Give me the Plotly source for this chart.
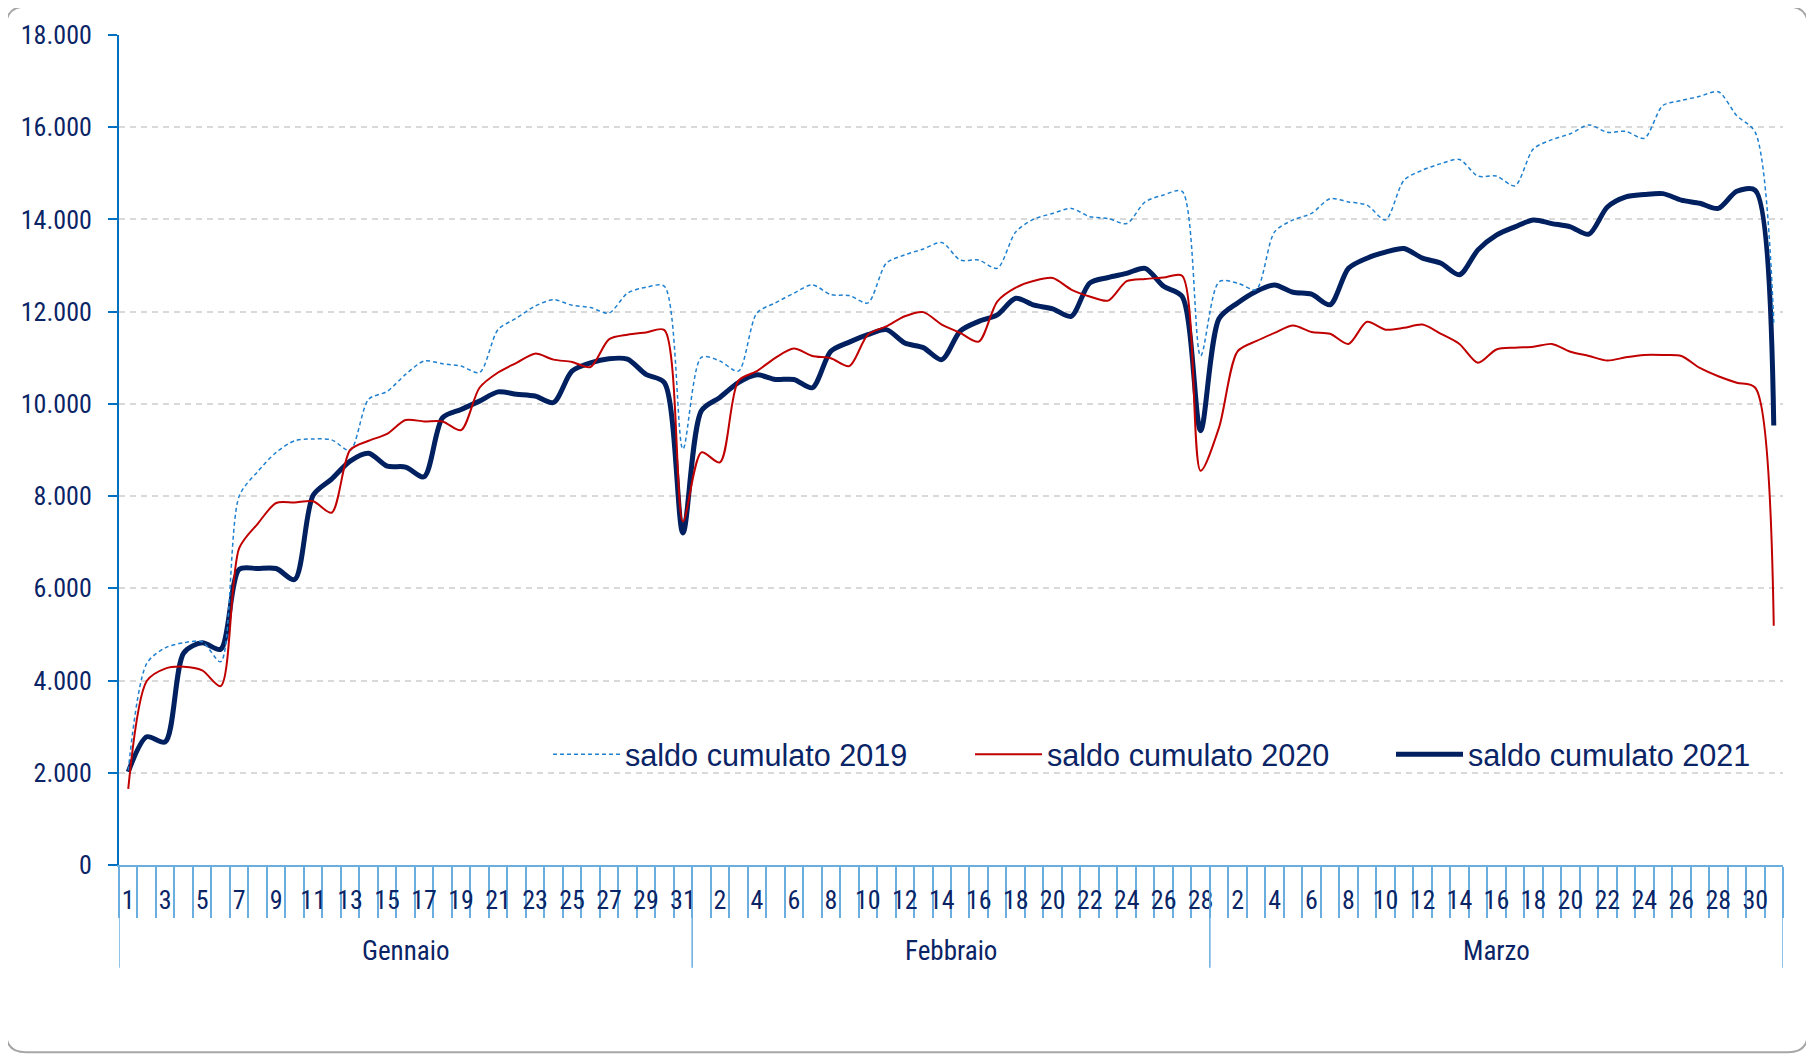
import plotly.graph_objects as go

# ---------------- data ----------------
mesi = ["Gennaio"] * 31 + ["Febbraio"] * 28 + ["Marzo"] * 31
giorni = list(range(1, 32)) + list(range(1, 29)) + list(range(1, 32))

saldo_2019 = [
    2050, 4370, 4710, 4820, 4840, 4410, 8000, 8530, 8950, 9200, 9240, 9220, 8990, 10100, 10270, 10640,
    10930, 10870, 10820, 10680, 11610, 11860, 12120, 12260, 12140, 12090, 11970, 12400, 12530, 12550, 9020,
    11010, 10930, 10710, 11970, 12190, 12400, 12580, 12370, 12350, 12190, 13050, 13230, 13360, 13500,
    13120, 13120, 12940, 13730, 14010, 14130, 14240, 14060, 14020, 13910, 14380, 14530, 14610, 11040,
    12650, 12620, 12480, 13730, 13990, 14130, 14450, 14380, 14310, 13990, 14850, 15070, 15210, 15300,
    14940, 14940, 14730, 15530, 15730, 15860, 16050, 15890, 15910, 15760, 16470, 16580, 16670, 16770,
    16250, 15890, 11760,
]
saldo_2020 = [
    1650, 3990, 4260, 4300, 4220, 3880, 6870, 7400, 7850, 7860, 7890, 7640, 9000, 9200, 9350, 9650,
    9620, 9620, 9430, 10350, 10680, 10890, 11090, 10960, 10910, 10800, 11400, 11500, 11550, 11600, 7450,
    8950, 8730, 10500, 10710, 11000, 11200, 11040, 10990, 10820, 11500, 11680, 11900, 11990, 11720,
    11540, 11350, 12220, 12520, 12670, 12730, 12480, 12330, 12240, 12660, 12710, 12740, 12780, 8550,
    9490, 11140, 11360, 11540, 11700, 11560, 11520, 11300, 11780, 11610, 11650, 11720, 11520, 11300,
    10890, 11180, 11220, 11240, 11300, 11130, 11040, 10940, 11010, 11060, 11060, 11040, 10780, 10600,
    10460, 10350, 5190,
]
saldo_2021 = [
    2020, 2780, 2670, 4600, 4820, 4680, 6410, 6430, 6430, 6190, 8020, 8370, 8760, 8930, 8650, 8630,
    8420, 9700, 9880, 10060, 10260, 10210, 10170, 10030, 10710, 10890, 10980, 10970, 10640, 10460, 7200,
    9850, 10140, 10460, 10630, 10530, 10530, 10350, 11140, 11340, 11500, 11610, 11320, 11220, 10960,
    11580, 11790, 11930, 12290, 12140, 12060, 11900, 12620, 12740, 12830, 12940, 12550, 12330, 9420,
    11850, 12190, 12440, 12580, 12420, 12380, 12150, 12940, 13160, 13290, 13370, 13160, 13050, 12800,
    13340, 13660, 13840, 13990, 13910, 13840, 13680, 14270, 14490, 14540, 14560, 14420, 14350, 14240,
    14610, 14630, 9530,
]
nomi = ["saldo cumulato 2019", "saldo cumulato 2020", "saldo cumulato 2021"]
y_ticks = [0, 2000, 4000, 6000, 8000, 10000, 12000, 14000, 16000, 18000]

# ---------------- style ----------------
FONT = "Liberation Sans Narrow, Arial Narrow, Roboto Condensed, Liberation Sans, Arial, sans-serif"
LFONT = "Liberation Sans, Arial, sans-serif"
TXT = "#0a2466"
AX_DARK = "#0070c0"
AX_LIGHT = "#6aaee0"

# page body has an 8px margin: work in figure pixels = reference pixels - 8
OFF = 8
FW, FH = 1814 - OFF, 1055 - OFF
L, R, T, B = 119 - OFF, 1783 - OFF, 32 - OFF, 865 - OFF
W, H = R - L, B - T
def py(p):
    return (B - (p - OFF)) / H
def px(p):
    return ((p - OFF) - L) / W

idx = list(range(len(giorni)))

fig = go.Figure()
fig.add_trace(go.Scatter(x=idx, y=saldo_2021, name=nomi[2], mode="lines", legend="legend3",
                         line=dict(color="#002060", width=5, shape="spline", smoothing=0.8)))
fig.add_trace(go.Scatter(x=idx, y=saldo_2019, name=nomi[0], mode="lines", legend="legend",
                         line=dict(color="#1f80d0", width=1.5, dash="4px,3px", shape="spline", smoothing=0.8)))
fig.add_trace(go.Scatter(x=idx, y=saldo_2020, name=nomi[1], mode="lines", legend="legend2",
                         line=dict(color="#c00000", width=2, shape="spline", smoothing=0.8)))

tickvals = idx[::2]
ticktext = [str(giorni[i]) for i in tickvals]

fig.update_xaxes(
    range=[-0.5, len(idx) - 0.5], showgrid=False, zeroline=False,
    showline=True, linecolor=AX_LIGHT, linewidth=2,
    tickmode="array", tickvals=tickvals, ticktext=ticktext,
    ticks="outside", ticklen=11, tickcolor="rgba(0,0,0,0)",
    tickfont=dict(family=FONT, size=26, color=TXT),
    minor=dict(tickmode="array", tickvals=[i - 0.5 for i in range(len(idx) + 1)],
               ticks="outside", ticklen=51, tickcolor=AX_LIGHT, tickwidth=1.5, showgrid=False),
)
fig.update_yaxes(
    range=[0, 18000], tickmode="array", tickvals=y_ticks, tickformat=",d",
    showline=True, linecolor=AX_DARK, linewidth=2,
    ticks="outside", ticklen=9, tickcolor=AX_DARK, tickwidth=2,
    ticklabelstandoff=11,
    showgrid=True, gridcolor="#d9d9d9", griddash="6px,5px", gridwidth=1.5, zeroline=False,
    tickfont=dict(family=FONT, size=26, color=TXT),
)

# month separators and labels
bounds = [-0.5]
for i in range(1, len(mesi)):
    if mesi[i] != mesi[i - 1]:
        bounds.append(i - 0.5)
bounds.append(len(mesi) - 0.5)
for b in bounds:
    fig.add_shape(type="line", xref="x", yref="paper", x0=b, x1=b, y0=0, y1=py(968),
                  line=dict(color=AX_LIGHT, width=1.5))
for k in range(len(bounds) - 1):
    fig.add_annotation(xref="x", yref="paper", x=(bounds[k] + bounds[k + 1]) / 2, y=py(951),
                       text=mesi[int(bounds[k] + 0.5)], showarrow=False, yanchor="middle",
                       font=dict(family=FONT, size=27, color=TXT))

# outer rounded border
x0, x1, yt, yb = px(6), px(1808), py(3.5), py(1053)
rx, ry = 20 / W, 20 / H
path = (f"M {x0+rx},{yt} L {x1-rx},{yt} Q {x1},{yt} {x1},{yt-ry} L {x1},{yb+ry} "
        f"Q {x1},{yb} {x1-rx},{yb} L {x0+rx},{yb} Q {x0},{yb} {x0},{yb+ry} "
        f"L {x0},{yt-ry} Q {x0},{yt} {x0+rx},{yt} Z")
fig.add_shape(type="path", xref="paper", yref="paper", path=path,
              line=dict(color="#a6a6a6", width=2), layer="below")

leg_common = dict(orientation="h", xanchor="left", yanchor="middle", bgcolor="rgba(0,0,0,0)",
                  font=dict(family=LFONT, size=30.6, color=TXT), itemwidth=67)
fig.update_layout(
    width=FW, height=FH, paper_bgcolor="white", plot_bgcolor="white",
    margin=dict(l=L, r=FW - R, t=T, b=FH - B),
    separators=",.",
    showlegend=True,
    legend=dict(x=px(548), y=py(754), **leg_common),
    legend2=dict(x=px(970), y=py(754), **leg_common),
    legend3=dict(x=px(1391), y=py(754), **leg_common),
    font=dict(family=FONT, color=TXT),
)

fig.write_html("out.html")
